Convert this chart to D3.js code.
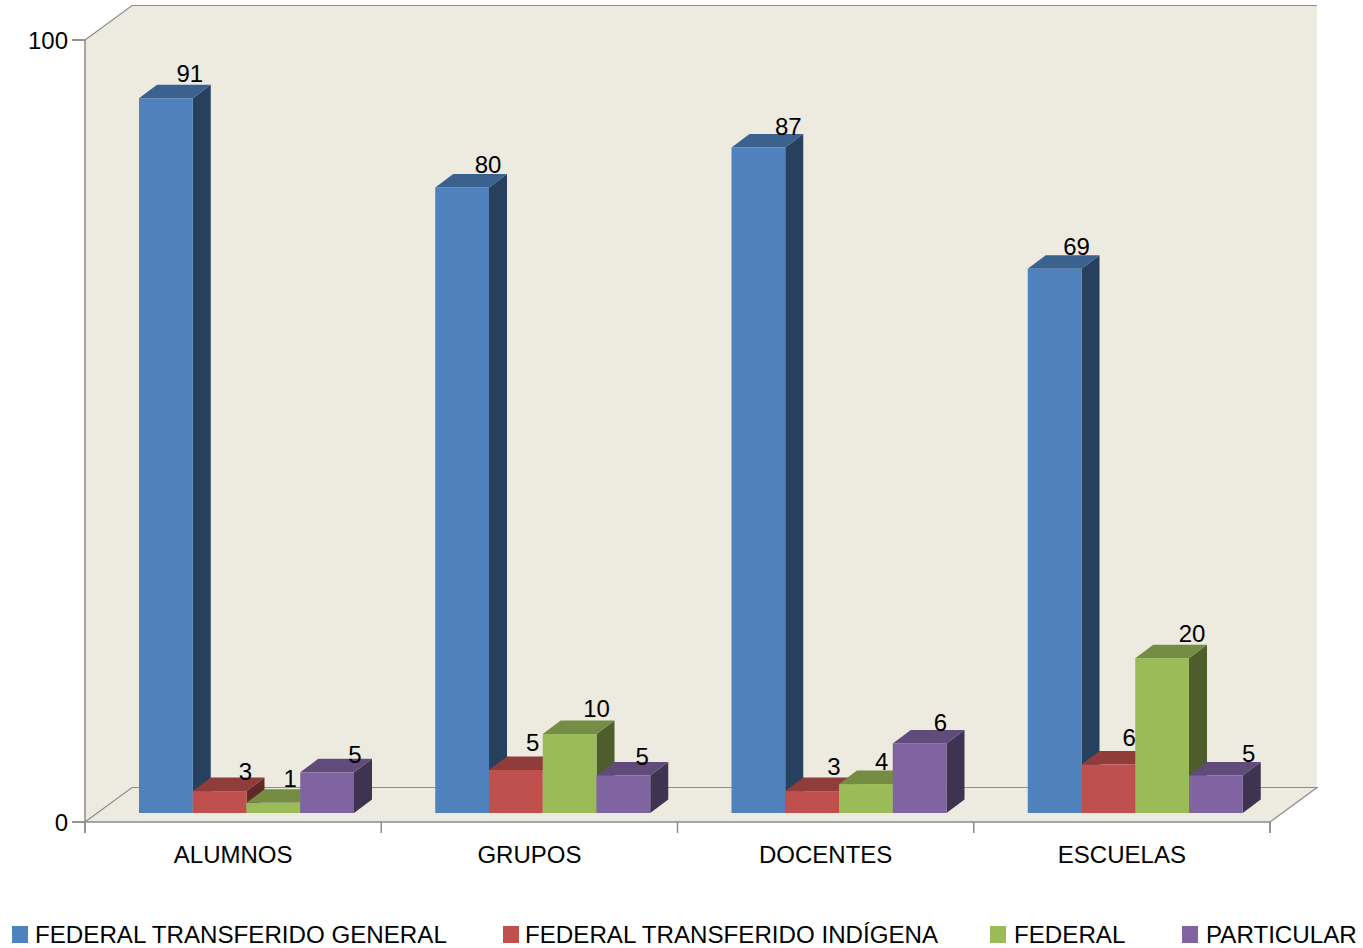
<!DOCTYPE html>
<html lang="es">
<head>
    <meta charset="UTF-8">
    <title>Distribución por tipo de sostenimiento</title>
    <script src="https://d3js.org/d3.v7.min.js"></script>
    <style>
        html, body { margin: 0; padding: 0; background: #fff; overflow: hidden; }
        svg { display: block; }
        text { font-family: "Liberation Sans", Arial, sans-serif; font-size: 24px; fill: #000; }
    </style>
</head>
<body>
    <svg width="1363" height="948"></svg>
    <script>

// Data
const categories = ["ALUMNOS", "GRUPOS", "DOCENTES", "ESCUELAS"];
const seriesNames = ["FEDERAL TRANSFERIDO GENERAL", "FEDERAL TRANSFERIDO INDÍGENA", "FEDERAL", "PARTICULAR"];
const yTicks = [0, 100];

// Bar heights as drawn
const generalValues = [91.4, 80.0, 85.1, 69.6];
const indigenaValues = [2.8, 5.5, 2.8, 6.2];
const federalValues = [1.3, 10.1, 3.7, 19.8];
const particularValues = [5.2, 4.8, 8.9, 4.8];
const barValues = [generalValues, indigenaValues, federalValues, particularValues];

// Numbers printed above the bars (they do not always agree with the heights)
const generalLabels = [91, 80, 87, 69];
const indigenaLabels = [3, 5, 3, 6];
const federalLabels = [1, 10, 4, 20];
const particularLabels = [5, 5, 6, 5];
const barLabels = [generalLabels, indigenaLabels, federalLabels, particularLabels];

const colors = [
    { front: "#4f81bd", top: "#3b618e", side: "#27405e" },
    { front: "#c0504d", top: "#903c3a", side: "#602826" },
    { front: "#9bbb59", top: "#748c43", side: "#4d5d2c" },
    { front: "#8064a2", top: "#604b7a", side: "#403251" }
];

const svg = d3.select("svg");
const axisColor = "#8c8c8c";

const plot = { left: 85, right: 1270, top: 40, bottom: 822 };
const wall = { dx: 47, dy: -34.5 };   // depth of the box
const depth = { dx: 18, dy: -13.5 };  // depth of a bar
const floorGap = 9;                   // bars stand a little behind the front edge

const x = d3.scaleBand().domain(categories).range([plot.left, plot.right]);
const xInner = d3.scaleBand().domain(d3.range(seriesNames.length)).range([54, 269]);
const y = d3.scaleLinear().domain([0, 100]).range([plot.bottom, plot.top]);
const boundaries = d3.scaleLinear().domain([0, categories.length]).range([plot.left, plot.right]);

const points = arr => arr.map(p => p.join(",")).join(" ");

// Box: wall and floor
svg.append("polygon")
    .attr("fill", "#edeae0")
    .attr("points", points([
        [plot.left, y(100)],
        [plot.left + wall.dx, y(100) + wall.dy],
        [plot.right + wall.dx, y(100) + wall.dy],
        [plot.right + wall.dx, y(0) + wall.dy],
        [plot.right, y(0)],
        [plot.left, y(0)]
    ]));

svg.append("polyline")
    .attr("fill", "none")
    .attr("stroke", axisColor)
    .attr("stroke-width", 1.2)
    .attr("points", points([
        [plot.left, y(100)],
        [plot.left + wall.dx, y(100) + wall.dy],
        [plot.right + wall.dx, y(100) + wall.dy]
    ]));

svg.append("polyline")
    .attr("fill", "none")
    .attr("stroke", axisColor)
    .attr("stroke-width", 1.2)
    .attr("points", points([
        [plot.left, y(0)],
        [plot.left + wall.dx, y(0) + wall.dy],
        [plot.right + wall.dx, y(0) + wall.dy],
        [plot.right, y(0)]
    ]));

// Axes
const yAxis = svg.append("g")
    .attr("transform", `translate(${plot.left},0)`)
    .call(d3.axisLeft(y).offset(0).tickValues(yTicks).tickSize(13).tickPadding(4).tickFormat(d3.format("d")));
yAxis.selectAll("text").attr("transform", "translate(0,1)");

const xTicks = svg.append("g")
    .attr("transform", `translate(0,${plot.bottom})`)
    .call(d3.axisBottom(boundaries).offset(0).ticks(categories.length).tickSize(11).tickFormat(""));

const xLabels = svg.append("g")
    .attr("transform", `translate(0,${plot.bottom})`)
    .call(d3.axisBottom(x).offset(0).tickSize(0).tickPadding(24));
xLabels.select(".domain").remove();

svg.selectAll(".domain, .tick line").attr("stroke", axisColor).attr("stroke-width", 1.5);
svg.selectAll(".tick text").style("font-size", "24px").style("font-family", "'Liberation Sans', Arial, sans-serif").attr("fill", "#000");

// Bars, painted left to right so the nearer ones cover their neighbours
const baseY = v => y(v) - floorGap;
const bars = [];
categories.forEach((cat, c) => {
    seriesNames.forEach((name, s) => {
        bars.push({ cat, s, value: barValues[s][c], label: barLabels[s][c], c });
    });
});

const bar = svg.append("g").selectAll("g")
    .data(bars)
    .join("g");

bar.append("polygon")
    .attr("fill", d => colors[d.s].side)
    .attr("points", d => {
        const r = x(d.cat) + xInner(d.s) + xInner.bandwidth();
        return points([
            [r, baseY(d.value)],
            [r + depth.dx, baseY(d.value) + depth.dy],
            [r + depth.dx, baseY(0) + depth.dy],
            [r, baseY(0)]
        ]);
    });

bar.append("polygon")
    .attr("fill", d => colors[d.s].top)
    .attr("points", d => {
        const l = x(d.cat) + xInner(d.s);
        const r = l + xInner.bandwidth();
        const t = baseY(d.value);
        return points([
            [l, t],
            [l + depth.dx, t + depth.dy],
            [r + depth.dx, t + depth.dy],
            [r, t]
        ]);
    });

bar.append("rect")
    .attr("fill", d => colors[d.s].front)
    .attr("x", d => x(d.cat) + xInner(d.s))
    .attr("y", d => baseY(d.value))
    .attr("width", xInner.bandwidth())
    .attr("height", d => baseY(0) - baseY(d.value));

// Hand placed nudges of the printed numbers, by category then series: [dx, dy]
const labelNudge = [
    [[-3, -7], [-1, -2], [-10, -7], [1, 0]],
    [[-1, -5], [-10, -10], [0, -8], [-8, -1]],
    [[3, -4], [-5, -7], [-11, -5], [-6, -3]],
    [[-5, -5], [-6, -10], [3, -7], [6, -4]]
];

svg.append("g").selectAll("text")
    .data(bars)
    .join("text")
    .attr("text-anchor", "middle")
    .attr("x", d => x(d.cat) + xInner(d.s) + xInner.bandwidth() + labelNudge[d.c][d.s][0])
    .attr("y", d => baseY(d.value) + depth.dy + 4.5 + labelNudge[d.c][d.s][1])
    .text(d => d.label);

// Legend
const legendX = [12, 503, 990, 1182];
const legendTextX = [35, 525, 1014, 1206];
const legend = svg.append("g").selectAll("g")
    .data(seriesNames)
    .join("g");

legend.append("rect")
    .attr("x", (d, i) => legendX[i])
    .attr("y", 926)
    .attr("width", 16)
    .attr("height", 17)
    .attr("fill", (d, i) => colors[i].front);

legend.append("text")
    .attr("x", (d, i) => legendTextX[i])
    .attr("y", 943)
    .style("font-size", "24.15px")
    .text(d => d);

    </script>
</body>
</html>
